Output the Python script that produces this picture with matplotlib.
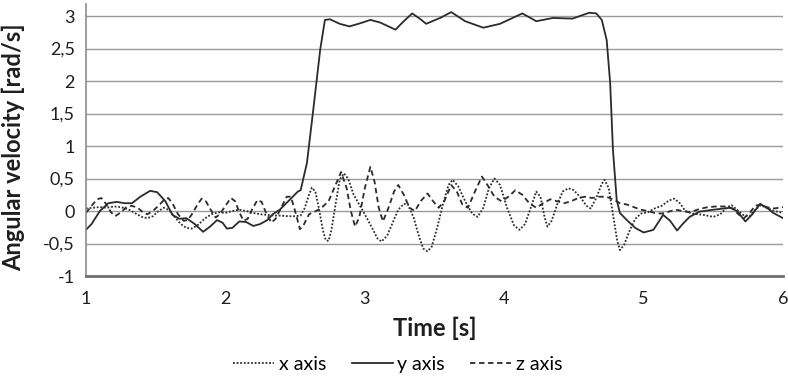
import matplotlib
matplotlib.use("Agg")
import matplotlib.pyplot as plt
from matplotlib.ticker import FuncFormatter
import numpy as np

plt.rcParams["font.family"] = ["Lato", "DejaVu Sans"]

# angular velocity around the y axis (solid)
t_y = [1.00, 1.04, 1.10, 1.16, 1.22, 1.28, 1.33, 1.39, 1.46, 1.51, 1.57, 1.62, 1.67, 1.72,
       1.78, 1.84, 1.89, 1.94, 1.98, 2.01, 2.05, 2.10, 2.15, 2.20, 2.25, 2.30, 2.34, 2.39,
       2.46, 2.52, 2.54, 2.585, 2.63, 2.68, 2.714, 2.75, 2.82, 2.89, 2.97, 3.04, 3.11, 3.22,
       3.27, 3.34, 3.40, 3.44, 3.54, 3.62, 3.72, 3.85, 3.97, 4.13, 4.23, 4.35, 4.49, 4.61,
       4.66, 4.70, 4.735, 4.76, 4.78, 4.807, 4.83, 4.88, 4.94, 5.00, 5.07, 5.14, 5.19, 5.24,
       5.28, 5.33, 5.40, 5.50, 5.62, 5.67, 5.73, 5.78, 5.835, 5.885, 5.93, 6.00]
v_y = [-0.29, -0.20, 0.00, 0.12, 0.14, 0.12, 0.12, 0.22, 0.31, 0.29, 0.15, -0.06, -0.12, -0.11,
       -0.20, -0.32, -0.24, -0.14, -0.18, -0.27, -0.26, -0.16, -0.17, -0.23, -0.20, -0.14, -0.05, 0.02,
       0.17, 0.30, 0.32, 0.74, 1.55, 2.48, 2.94, 2.95, 2.88, 2.84, 2.89, 2.94, 2.90, 2.79,
       2.90, 3.04, 2.95, 2.88, 2.97, 3.06, 2.92, 2.82, 2.88, 3.04, 2.92, 2.97, 2.96, 3.05,
       3.04, 2.94, 2.63, 1.97, 0.94, 0.17, -0.03, -0.14, -0.26, -0.33, -0.29, -0.06, -0.15, -0.30,
       -0.20, -0.09, -0.01, 0.02, 0.05, 0.00, -0.16, -0.05, 0.11, 0.05, -0.03, -0.11]

# x axis (dotted)
t_x = [1.00, 1.05, 1.10, 1.15, 1.20, 1.25, 1.30, 1.35, 1.40, 1.44, 1.48, 1.52, 1.56, 1.60,
       1.64, 1.68, 1.72, 1.76, 1.80, 1.85, 1.90, 1.95, 2.00, 2.05, 2.10, 2.15, 2.20, 2.25,
       2.30, 2.35, 2.40, 2.45, 2.50, 2.54, 2.57, 2.60, 2.62, 2.645, 2.67, 2.70, 2.72, 2.74,
       2.76, 2.79, 2.82, 2.85, 2.88, 2.92, 2.96, 3.00, 3.05, 3.09, 3.12, 3.16, 3.20, 3.24,
       3.28, 3.31, 3.35, 3.39, 3.42, 3.45, 3.48, 3.52, 3.56, 3.60, 3.63, 3.67, 3.72, 3.77,
       3.81, 3.85, 3.89, 3.93, 3.97, 4.02, 4.07, 4.11, 4.15, 4.19, 4.23, 4.26, 4.29, 4.31,
       4.34, 4.38, 4.42, 4.46, 4.50, 4.55, 4.59, 4.62, 4.66, 4.70, 4.72, 4.75, 4.78, 4.81,
       4.83, 4.86, 4.90, 4.94, 4.98, 5.03, 5.08, 5.13, 5.18, 5.22, 5.26, 5.30, 5.35, 5.43,
       5.50, 5.55, 5.60, 5.63, 5.67, 5.72, 5.76, 5.80, 5.84, 5.88, 5.94, 6.00]
v_x = [0.04, 0.05, 0.06, 0.05, 0.07, 0.06, 0.03, -0.03, -0.09, -0.11, -0.08, 0.00, 0.05, 0.01,
       -0.10, -0.20, -0.26, -0.27, -0.22, -0.12, -0.05, -0.02, -0.03, 0.00, 0.02, 0.00, -0.03, -0.05,
       -0.06, -0.07, -0.07, -0.08, -0.08, -0.07, 0.05, 0.25, 0.36, 0.30, 0.05, -0.30, -0.45, -0.46,
       -0.30, 0.10, 0.48, 0.58, 0.50, 0.25, 0.10, -0.05, -0.25, -0.42, -0.47, -0.38, -0.18, 0.02,
       0.11, 0.10, -0.10, -0.40, -0.58, -0.62, -0.55, -0.25, 0.10, 0.40, 0.48, 0.38, 0.15, -0.04,
       -0.09, 0.05, 0.35, 0.50, 0.40, 0.05, -0.22, -0.29, -0.20, 0.05, 0.30, 0.22, -0.10, -0.24,
       -0.15, 0.10, 0.30, 0.35, 0.32, 0.20, 0.08, 0.04, 0.20, 0.42, 0.48, 0.35, -0.05, -0.45,
       -0.60, -0.52, -0.30, -0.12, -0.04, -0.02, 0.04, 0.08, 0.16, 0.19, 0.12, 0.00, -0.04, -0.06,
       -0.09, -0.05, 0.06, 0.09, 0.02, -0.07, -0.08, 0.02, 0.09, 0.05, 0.00, -0.03]

# z axis (dashed)
t_z = [1.00, 1.04, 1.08, 1.11, 1.14, 1.18, 1.21, 1.25, 1.29, 1.33, 1.37, 1.41, 1.44, 1.48,
       1.52, 1.56, 1.59, 1.62, 1.66, 1.70, 1.73, 1.76, 1.80, 1.83, 1.86, 1.90, 1.93, 1.96,
       2.00, 2.04, 2.07, 2.10, 2.13, 2.16, 2.19, 2.23, 2.26, 2.29, 2.33, 2.36, 2.40, 2.44,
       2.47, 2.50, 2.535, 2.56, 2.60, 2.65, 2.69, 2.74, 2.79, 2.83, 2.87, 2.90, 2.93, 2.96,
       3.00, 3.04, 3.07, 3.10, 3.13, 3.17, 3.21, 3.24, 3.28, 3.32, 3.36, 3.40, 3.45, 3.49,
       3.53, 3.57, 3.62, 3.66, 3.70, 3.74, 3.79, 3.84, 3.88, 3.93, 3.98, 4.03, 4.08, 4.13,
       4.18, 4.23, 4.28, 4.33, 4.38, 4.43, 4.48, 4.53, 4.58, 4.63, 4.68, 4.73, 4.78, 4.83,
       4.88, 4.93, 4.98, 5.03, 5.08, 5.13, 5.18, 5.23, 5.28, 5.33, 5.40, 5.46, 5.52, 5.58,
       5.64, 5.68, 5.72, 5.76, 5.80, 5.84, 5.88, 5.94, 6.00]
v_z = [-0.03, 0.08, 0.18, 0.20, 0.12, -0.02, -0.08, -0.02, 0.06, 0.08, 0.05, -0.02, -0.05, 0.00,
       0.08, 0.17, 0.20, 0.12, -0.05, -0.15, -0.14, -0.05, 0.10, 0.19, 0.15, 0.00, -0.10, -0.05,
       0.08, 0.20, 0.15, -0.02, -0.15, -0.12, 0.02, 0.17, 0.14, -0.02, -0.18, -0.12, 0.05, 0.22,
       0.22, 0.00, -0.28, -0.22, -0.05, 0.00, 0.05, 0.15, 0.40, 0.60, 0.35, 0.00, -0.24, -0.10,
       0.35, 0.68, 0.45, 0.05, -0.16, 0.05, 0.30, 0.40, 0.25, 0.05, 0.00, 0.15, 0.27, 0.15,
       0.05, 0.15, 0.40, 0.30, 0.10, 0.05, 0.30, 0.53, 0.40, 0.22, 0.15, 0.22, 0.32, 0.25,
       0.12, 0.05, 0.12, 0.18, 0.15, 0.12, 0.15, 0.20, 0.22, 0.20, 0.22, 0.22, 0.18, 0.12,
       0.10, 0.06, 0.02, 0.00, -0.03, -0.04, -0.01, 0.02, 0.00, -0.02, 0.03, 0.06, 0.07, 0.07,
       0.04, -0.05, -0.11, -0.03, 0.08, 0.10, 0.06, 0.04, 0.06]

y_ticks = [-1, -0.5, 0, 0.5, 1, 1.5, 2, 2.5, 3]
x_ticks = [1, 2, 3, 4, 5, 6]

line_col = "#2b2b2b"
text_col = "#1e1e1e"

fig = plt.figure(figsize=(7.88, 3.78), dpi=100)
ax = fig.add_axes([0.1091, 0.2698, 0.8846, 0.7188])

ax.plot(t_x, v_x, color=line_col, lw=1.3, linestyle=(0, (1, 1)), label="x axis")
ax.plot(t_y, v_y, color=line_col, lw=1.3, linestyle="-", label="y axis")
ax.plot(t_z, v_z, color=line_col, lw=1.3, linestyle=(0, (3, 2)), label="z axis")

ax.set_xlim(1, 6)
ax.set_ylim(-1, 3.18)
ax.set_xticks(x_ticks)
ax.set_yticks(y_ticks)
ax.yaxis.set_major_formatter(FuncFormatter(lambda v, p: f"{v:g}".replace(".", ",")))
ax.tick_params(length=0, labelsize=13, colors=text_col)
ax.tick_params(axis="y", pad=8)
ax.tick_params(axis="x", pad=11)

for y in y_ticks[1:]:
    ax.axhline(y, color="#9a9a9a", lw=1.0, zorder=0)

for s in ["top", "right"]:
    ax.spines[s].set_visible(False)
ax.spines["left"].set_color("#8c8c8c")
ax.spines["left"].set_linewidth(1.2)
ax.spines["bottom"].set_color("#6e6e6e")
ax.spines["bottom"].set_linewidth(2.0)

ax.set_ylabel("Angular velocity [rad/s]", fontsize=17, fontweight="bold", color=text_col)
ax.yaxis.set_label_coords(-0.088, 0.475)
ax.set_xlabel("Time [s]", fontsize=17, fontweight="bold", color=text_col)
ax.xaxis.set_label_coords(0.5, -0.15)

fig.legend(loc="center", bbox_to_anchor=(0.505, 0.035), ncol=3, frameon=False,
           fontsize=14, handlelength=2.1, handletextpad=0.25, columnspacing=1.3)

fig.savefig("out.png", dpi=100)
